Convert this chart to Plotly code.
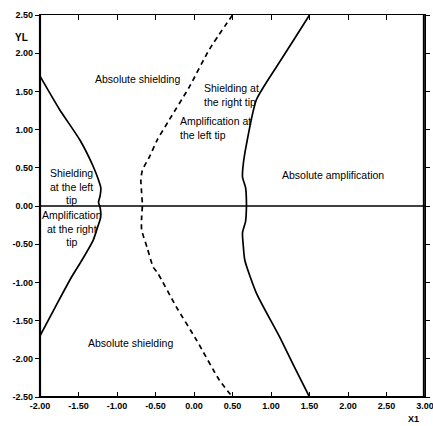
import plotly.graph_objects as go

# Boundary curves in the (X1, YL) plane
left_x = [-2.00, -1.75, -1.48, -1.31, -1.24, -1.21, -1.22, -1.24, -1.22, -1.21, -1.22, -1.25, -1.31, -1.45, -1.59, -1.80, -2.00]
left_y = [1.70, 1.27, 0.86, 0.52, 0.34, 0.24, 0.13, 0.05, -0.02, -0.10, -0.18, -0.27, -0.45, -0.70, -0.93, -1.32, -1.70]

dash_x = [0.50, 0.20, -0.06, -0.32, -0.48, -0.58, -0.67, -0.69, -0.68, -0.67, -0.68, -0.68, -0.61, -0.53, -0.47, -0.23, 0.03, 0.33, 0.50]
dash_y = [2.50, 2.05, 1.56, 1.13, 0.86, 0.64, 0.47, 0.34, 0.17, 0.01, -0.14, -0.31, -0.54, -0.80, -0.88, -1.32, -1.75, -2.28, -2.50]

right_x = [1.50, 1.28, 1.07, 0.81, 0.68, 0.64, 0.63, 0.67, 0.68, 0.68, 0.67, 0.63, 0.64, 0.66, 0.81, 1.11, 1.30, 1.50]
right_y = [2.50, 2.15, 1.82, 1.39, 0.80, 0.55, 0.38, 0.24, 0.10, -0.05, -0.20, -0.35, -0.52, -0.71, -1.14, -1.71, -2.10, -2.50]

x_ticks = [-2.0, -1.5, -1.0, -0.5, 0.0, 0.5, 1.0, 1.5, 2.0, 2.5, 3.0]
y_ticks = [-2.5, -2.0, -1.5, -1.0, -0.5, 0.0, 0.5, 1.0, 1.5, 2.0, 2.5]

# Region labels: (text, x, y, anchor)
regions = [
    ("Absolute shielding", -0.73, 1.66, "center"),
    ("Shielding at<br>the right tip", 0.11, 1.45, "left"),
    ("Amplification at<br>the left tip", -0.21, 1.02, "left"),
    ("Absolute amplification", 1.80, 0.41, "center"),
    ("Shielding<br>at the left<br>tip", -1.59, 0.25, "center"),
    ("Amplification<br>at the right<br>tip", -1.59, -0.30, "center"),
    ("Absolute shielding", -0.82, -1.79, "center"),
]

FONT = "Liberation Sans, Arial, sans-serif"

fig = go.Figure()
line_style = dict(color="black", width=1.7)
fig.add_trace(go.Scatter(x=left_x, y=left_y, mode="lines", line=dict(line_style, shape="spline", smoothing=0.6)))
fig.add_trace(go.Scatter(x=dash_x, y=dash_y, mode="lines",
                         line=dict(color="black", width=1.7, dash="5px,4px", shape="spline", smoothing=0.6)))
fig.add_trace(go.Scatter(x=right_x, y=right_y, mode="lines", line=dict(line_style, shape="spline", smoothing=0.6)))

# Zero line across the plane
fig.add_shape(type="line", xref="x", yref="y", x0=-2, x1=3, y0=0, y1=0,
              line=dict(color="black", width=1.3))
# Heavier left and bottom axis lines, plus the right border
fig.add_shape(type="line", xref="paper", yref="paper", x0=0, x1=0, y0=0, y1=1,
              line=dict(color="black", width=2.2))
fig.add_shape(type="line", xref="paper", yref="paper", x0=0, x1=1, y0=0, y1=0,
              line=dict(color="black", width=2.2))
fig.add_shape(type="line", xref="paper", yref="paper", x0=0.997, x1=0.997, y0=0, y1=1,
              line=dict(color="black", width=2))

for text, x, y, anchor in regions:
    fig.add_annotation(x=x, y=y, text=text, showarrow=False, xanchor=anchor, align=anchor,
                       font=dict(family=FONT, size=10.5, color="black"))

fig.add_annotation(xref="paper", yref="paper", x=-0.07, y=0.962, text="<b>YL</b>", showarrow=False,
                   font=dict(family=FONT, size=10, color="black"))
fig.add_annotation(xref="paper", yref="paper", x=0.99, y=-0.075, text="<b>X1</b>", showarrow=False,
                   font=dict(family=FONT, size=9, color="black"))

fig.update_layout(
    width=433, height=426,
    margin=dict(l=40, r=8, t=15, b=29, autoexpand=False),
    paper_bgcolor="white", plot_bgcolor="white",
    showlegend=False,
    font=dict(family=FONT, color="black"),
)
fig.update_xaxes(range=[-2, 3], tickvals=x_ticks, ticktext=[f"<b>{v:.2f}</b>" for v in x_ticks],
                 showgrid=False, zeroline=False, showline=True, linecolor="black", linewidth=1.2,
                 mirror="ticks", ticks="inside", ticklen=5, tickcolor="black", tickwidth=1,
                 automargin=False, ticklabeloverflow="allow",
                 tickfont=dict(family=FONT, size=9, color="black"))
fig.update_yaxes(range=[-2.5, 2.5], tickvals=y_ticks, ticktext=[f"<b>{v:.2f}</b>" for v in y_ticks],
                 showgrid=False, zeroline=False, showline=True, linecolor="black", linewidth=1.2,
                 mirror="ticks", ticks="outside", ticklen=4, tickcolor="black", tickwidth=1,
                 automargin=False, ticklabeloverflow="allow",
                 tickfont=dict(family=FONT, size=9, color="black"))

fig.write_html("out.html")
